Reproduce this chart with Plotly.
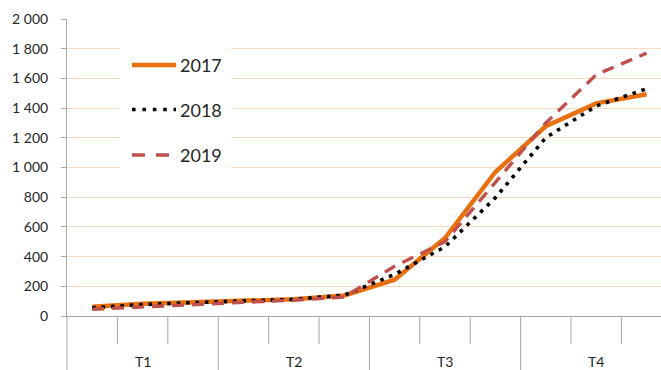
import plotly.graph_objects as go

# Monthly cumulative values, grouped by quarter
months = ["janv.", "févr.", "mars", "avr.", "mai", "juin",
          "juil.", "août", "sept.", "oct.", "nov.", "déc."]
quarters = ["T1", "T2", "T3", "T4"]
years = ["2017", "2018", "2019"]

v2017 = [62, 82, 93, 103, 113, 138, 245, 525, 970, 1278, 1432, 1493]
v2018 = [55, 77, 90, 101, 112, 140, 280, 466, 797, 1201, 1414, 1530]
v2019 = [45, 62, 79, 92, 106, 128, 335, 500, 900, 1300, 1625, 1770]

y_ticks = list(range(0, 2001, 200))

# Figure geometry
W, H = 661, 370
ML, MR, MT, MB = 67, 0, 19, 54
PW, PH = W - ML - MR, H - MT - MB
CAT_W = 50.4  # width of one month slot in px

FONT = "Lato, 'Open Sans', sans-serif"
TXT = "#262626"
AXIS_GREY = "#A6A6A6"

styles = {
    "2017": dict(color="#E8700F", width=4.5, dash="solid"),
    "2018": dict(color="#000000", width=3.6, dash="3.6px,5.8px"),
    "2019": dict(color="#C0504D", width=3.4, dash="12px,8px"),
}
series = {"2017": v2017, "2018": v2018, "2019": v2019}


def px_x(p):
    return (p - ML) / PW


def px_y(p):
    return (H - MB - p) / PH


fig = go.Figure()
for name in years:
    fig.add_trace(go.Scatter(
        x=months, y=series[name], mode="lines", name=name,
        line=dict(color=styles[name]["color"], width=styles[name]["width"],
                  dash=styles[name]["dash"]),
        showlegend=False, hoverinfo="x+y+name",
    ))

shapes = []
# Month separators below the axis; quarter separators run to the bottom
for i in range(1, len(months)):
    long_tick = (i % 3 == 0)
    shapes.append(dict(
        type="line", xref="x", yref="paper",
        x0=i - 0.5, x1=i - 0.5, y0=0, y1=px_y(370 if long_tick else 344),
        line=dict(color=AXIS_GREY, width=1), layer="above",
    ))
# Extension of the value axis down through the quarter band
shapes.append(dict(
    type="line", xref="paper", yref="paper", x0=0, x1=0,
    y0=0, y1=px_y(370), line=dict(color=AXIS_GREY, width=1),
))

# Legend panel
shapes.append(dict(
    type="rect", xref="paper", yref="paper",
    x0=px_x(120), x1=px_x(231), y0=px_y(182), y1=px_y(36),
    fillcolor="white", line=dict(width=0), layer="above",
))
legend_rows = {"2017": 65, "2018": 109.5, "2019": 155}
legend_dash = {"2017": "solid", "2018": "3.6px,6.8px", "2019": "13px,11px"}
annotations = []
for name in years:
    yy = px_y(legend_rows[name])
    shapes.append(dict(
        type="line", xref="paper", yref="paper",
        x0=px_x(132), x1=px_x(176), y0=yy, y1=yy,
        line=dict(color=styles[name]["color"], width=styles[name]["width"],
                  dash=legend_dash[name]),
        layer="above",
    ))
    annotations.append(dict(
        xref="paper", yref="paper", x=px_x(178), y=yy,
        xanchor="left", yanchor="middle", showarrow=False,
        text=name, font=dict(family=FONT, size=18, color=TXT),
    ))

# Quarter labels centred under each group of three months
for q, label in enumerate(quarters):
    annotations.append(dict(
        xref="x", yref="paper", x=3 * q + 1, y=px_y(361),
        xanchor="center", yanchor="middle", showarrow=False,
        text=label, font=dict(family=FONT, size=14, color=TXT),
    ))

fig.update_layout(
    width=W, height=H,
    margin=dict(l=ML, r=MR, t=MT, b=MB, pad=0),
    paper_bgcolor="white", plot_bgcolor="white",
    separators=", ",
    font=dict(family=FONT, size=14, color=TXT),
    shapes=shapes, annotations=annotations,
    showlegend=False,
    xaxis=dict(
        type="category", categoryorder="array", categoryarray=months,
        range=[-0.5, PW / CAT_W - 0.5],
        showticklabels=False, showgrid=False, zeroline=False,
        showline=True, linecolor=AXIS_GREY, linewidth=1, ticks="",
    ),
    yaxis=dict(
        range=[0, 2000], tickvals=y_ticks, tickformat=",d",
        showgrid=True, gridcolor="#FAD9BF", gridwidth=1,
        zeroline=False, showline=True, linecolor=AXIS_GREY, linewidth=1,
        ticks="outside", ticklen=5, tickcolor=AXIS_GREY,
        ticklabelstandoff=10,
        tickfont=dict(family=FONT, size=14, color=TXT),
    ),
)

fig.write_html("out.html")
